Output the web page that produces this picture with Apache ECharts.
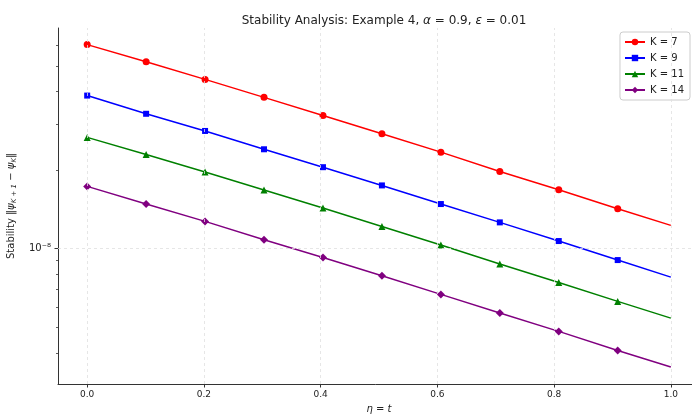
<!DOCTYPE html>
<html>
<head>
<meta charset="utf-8">
<script src="https://cdn.jsdelivr.net/npm/echarts@6/dist/echarts.min.js"></script>
<style>html,body{margin:0;padding:0;background:#fff}#c{width:692px;height:414px}</style>
</head>
<body>
<div id="c"></div>
<script>
const xs = [0, 0.101, 0.202, 0.303, 0.404, 0.505, 0.606, 0.707, 0.808, 0.909, 1.0];
const k7 = [6.03e-8, 5.19e-8, 4.44e-8, 3.79e-8, 3.23e-8, 2.75e-8, 2.34e-8, 1.975e-8, 1.681e-8, 1.422e-8, 1.228e-8];
const k9 = [3.85e-8, 3.28e-8, 2.82e-8, 2.40e-8, 2.05e-8, 1.746e-8, 1.482e-8, 1.261e-8, 1.070e-8, 9.05e-9, 7.79e-9];
const k11 = [2.665e-8, 2.294e-8, 1.965e-8, 1.677e-8, 1.431e-8, 1.217e-8, 1.033e-8, 8.74e-9, 7.43e-9, 6.29e-9, 5.43e-9];
const k14 = [1.731e-8, 1.482e-8, 1.272e-8, 1.082e-8, 9.26e-9, 7.88e-9, 6.69e-9, 5.68e-9, 4.83e-9, 4.08e-9, 3.53e-9];
const seriesNames = ['K = 7', 'K = 9', 'K = 11', 'K = 14'];
const xTicks = [0, 0.2, 0.4, 0.6, 0.8, 1.0];
const yMajor = [1e-8];
const yMinor = [4e-9, 5e-9, 6e-9, 7e-9, 8e-9, 9e-9, 2e-8, 3e-8, 4e-8, 5e-8, 6e-8];

const FONT = 'DejaVu Sans';
const colors = ['#ff0000', '#0000ff', '#008000', '#800080'];
const symbols = ['circle', 'rect', 'triangle', 'diamond'];
const sizes = [7, 6, 7, 8];
const allData = [k7, k9, k11, k14];
const X_MIN = -0.05, X_MAX = 1.05, Y_MIN = 3.04e-9, Y_MAX = 6.98e-8;

const chart = echarts.init(document.getElementById('c'), null, {renderer: 'canvas'});
const series = allData.map((arr, i) => ({
  name: seriesNames[i],
  type: 'line',
  xAxisIndex: 0,
  yAxisIndex: 0,
  data: arr.map((v, j) => j === arr.length - 1 ? {value: [xs[j], v], symbol: 'none'} : [xs[j], v]),
  symbol: symbols[i],
  symbolSize: sizes[i],
  showAllSymbol: true,
  color: colors[i],
  lineStyle: {width: 1.5, color: colors[i]},
  itemStyle: {color: colors[i]},
  z: 3,
  animation: false
}));
const gridLine = {color: '#e0e0e0', type: [3, 3], width: 0.8};
series.push({
  type: 'line', data: [], xAxisIndex: 0, yAxisIndex: 0, z: 1, silent: true,
  markLine: {
    silent: true, symbol: 'none', label: {show: false}, animation: false,
    lineStyle: gridLine,
    data: xTicks.map(v => [{coord: [v, Y_MIN]}, {coord: [v, Y_MAX]}])
      .concat(yMajor.map(v => [{coord: [X_MIN, v]}, {coord: [X_MAX, v]}]))
  }
});

const txt = (size, italic) => ({fontFamily: FONT, fontSize: size, fontWeight: 'normal',
  fontStyle: italic ? 'italic' : 'normal', color: '#222'});

chart.setOption({
  animation: false,
  backgroundColor: '#ffffff',
  textStyle: {fontFamily: FONT},
  title: {
    text: '{n|Stability Analysis: Example 4, }{i|α}{n| = 0.9, }{i|ε}{n| = 0.01}',
    left: 379, top: 10, textAlign: 'center',
    textStyle: {
      fontWeight: 'normal',
      rich: {n: txt(12, false), i: txt(12, true)}
    }
  },
  legend: {
    data: seriesNames,
    orient: 'vertical',
    right: 2, top: 32,
    itemWidth: 20, itemHeight: 8, itemGap: 6,
    padding: [5, 6, 5, 4],
    borderColor: '#cccccc', borderWidth: 1, borderRadius: 3,
    backgroundColor: 'rgba(255,255,255,0.85)',
    textStyle: {fontFamily: FONT, fontSize: 10, color: '#222'}
  },
  grid: {left: 58, top: 28, width: 642, height: 356, containLabel: false, outerBoundsMode: 'none'},
  xAxis: [{
    type: 'value', min: X_MIN, max: X_MAX,
    name: '{i|η}{n| = }{i|t}', nameLocation: 'middle', nameGap: 20,
    nameTextStyle: {rich: {n: txt(10, false), i: txt(10, true)}},
    axisLine: {show: true, onZero: false, lineStyle: {color: '#333', width: 1}},
    axisTick: {show: true, length: 3.5, customValues: xTicks, lineStyle: {color: '#333'}},
    axisLabel: {customValues: xTicks, fontFamily: FONT, fontSize: 9, color: '#222', margin: 6,
      formatter: v => v.toFixed(1)},
    splitLine: {show: false}
  }],
  yAxis: [{
    type: 'log', logBase: 10, min: Y_MIN, max: Y_MAX,
    position: 'left',
    name: '{n|Stability ‖}{i|ψ}{s|K + 1}{n| − }{i|ψ}{s|K}{n|‖}',
    nameLocation: 'middle', nameGap: 37, nameRotate: 90,
    nameTextStyle: {rich: {
      n: Object.assign(txt(10, false), {lineHeight: 14}),
      i: Object.assign(txt(10, true), {lineHeight: 14}),
      s: Object.assign(txt(7, true), {verticalAlign: 'bottom', lineHeight: 10})
    }},
    axisLine: {show: true, onZero: false, lineStyle: {color: '#333', width: 1}},
    axisTick: {show: true, length: 3.5, customValues: yMajor, lineStyle: {color: '#333'}},
    axisLabel: {customValues: yMajor, fontFamily: FONT, fontSize: 10, color: '#222', margin: 7,
      formatter: () => '10⁻⁸'},
    splitLine: {show: false},
    minorTick: {show: false}
  }, {
    type: 'log', logBase: 10, min: Y_MIN, max: Y_MAX,
    position: 'left', offset: 0,
    axisLine: {show: false, onZero: false},
    axisTick: {show: true, length: 2, customValues: yMinor, lineStyle: {color: '#333', width: 0.8}},
    axisLabel: {show: false},
    splitLine: {show: false}
  }],
  series: series
});
</script>
</body>
</html>
